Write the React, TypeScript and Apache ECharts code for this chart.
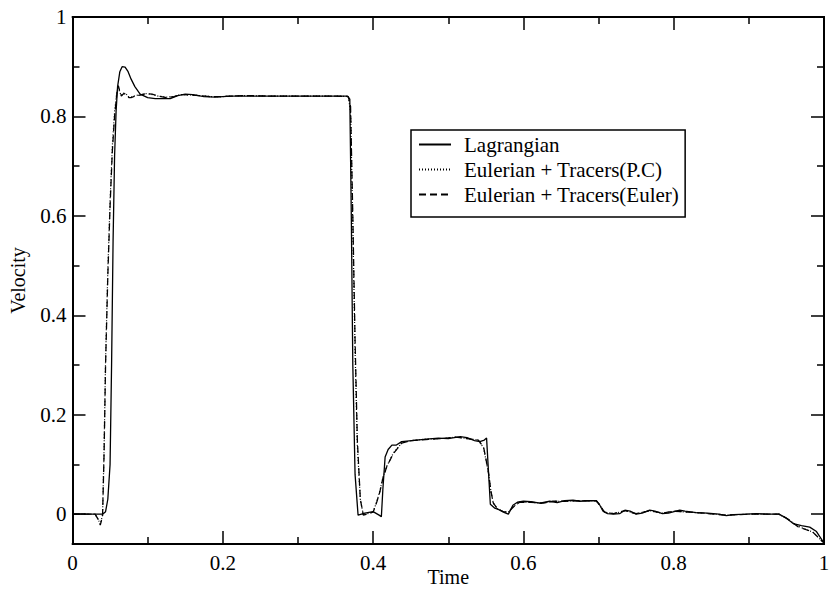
import React, { useEffect, useRef } from "react";
import * as echarts from "echarts";

const seriesNames = ["Lagrangian", "Eulerian + Tracers(P.C)", "Eulerian + Tracers(Euler)"];

const xTicks = [0, 0.2, 0.4, 0.6, 0.8, 1];
const yMajorTicks = [0, 0.2, 0.4, 0.6, 0.8, 1];
const yMinorTicks = [0.1, 0.3, 0.5, 0.7, 0.9];

const lagrangian: [number, number][] = [
  [0, 0], [0.02, 0], [0.04, 0], [0.044, 0.005], [0.047, 0.03], [0.05, 0.1], [0.052, 0.3],
  [0.054, 0.55], [0.056, 0.72], [0.058, 0.81], [0.06, 0.86], [0.063, 0.89], [0.066, 0.9],
  [0.07, 0.899], [0.074, 0.89], [0.078, 0.875], [0.083, 0.86], [0.09, 0.845], [0.1, 0.838],
  [0.11, 0.836], [0.12, 0.836], [0.13, 0.836], [0.14, 0.842], [0.15, 0.845], [0.16, 0.844],
  [0.175, 0.84], [0.19, 0.839], [0.21, 0.841], [0.25, 0.841], [0.3, 0.841], [0.35, 0.841],
  [0.366, 0.841], [0.369, 0.835], [0.371, 0.6], [0.373, 0.3], [0.376, 0.08], [0.38, -0.002],
  [0.389, 0.002], [0.4, 0.005], [0.408, -0.002], [0.411, -0.005], [0.413, 0.05], [0.416, 0.115],
  [0.42, 0.13], [0.425, 0.139], [0.431, 0.139], [0.438, 0.146], [0.458, 0.149], [0.471, 0.151],
  [0.487, 0.153], [0.5, 0.152], [0.516, 0.156], [0.525, 0.154], [0.535, 0.148], [0.542, 0.146],
  [0.548, 0.149], [0.551, 0.153], [0.553, 0.1], [0.556, 0.02], [0.562, 0.012], [0.569, 0.008],
  [0.575, 0.003], [0.58, 0], [0.586, 0.018], [0.592, 0.024], [0.6, 0.026], [0.61, 0.025],
  [0.622, 0.022], [0.635, 0.026], [0.645, 0.023], [0.655, 0.027], [0.666, 0.028], [0.675, 0.026],
  [0.685, 0.027], [0.697, 0.027], [0.701, 0.02], [0.706, 0.006], [0.712, 0.001], [0.72, 0],
  [0.728, 0.001], [0.735, 0.008], [0.742, 0.006], [0.75, 0], [0.758, 0.002], [0.768, 0.008],
  [0.775, 0.006], [0.785, 0.001], [0.793, 0.002], [0.808, 0.008], [0.815, 0.006], [0.83, 0.003],
  [0.845, 0.002], [0.86, 0], [0.87, -0.003], [0.88, -0.001], [0.897, 0], [0.91, 0.001],
  [0.925, 0], [0.94, 0], [0.95, -0.008], [0.959, -0.019], [0.97, -0.023], [0.981, -0.026],
  [0.99, -0.035], [1.0, -0.058],
];

const tracersPC: [number, number][] = [
  [0, 0], [0.03, 0], [0.034, -0.01], [0.037, -0.02], [0.04, -0.002], [0.042, 0.13], [0.044, 0.31],
  [0.047, 0.49], [0.05, 0.63], [0.053, 0.74], [0.056, 0.81], [0.059, 0.85], [0.061, 0.858],
  [0.063, 0.848], [0.065, 0.842], [0.068, 0.847], [0.072, 0.844], [0.075, 0.839], [0.078, 0.839],
  [0.084, 0.842], [0.09, 0.844], [0.098, 0.846], [0.106, 0.844], [0.114, 0.841], [0.125, 0.839],
  [0.135, 0.84], [0.145, 0.844], [0.16, 0.843], [0.183, 0.84], [0.2, 0.84], [0.227, 0.842],
  [0.26, 0.841], [0.3, 0.841], [0.35, 0.841], [0.367, 0.84], [0.37, 0.81], [0.373, 0.58],
  [0.376, 0.33], [0.379, 0.14], [0.383, 0.03], [0.387, -0.002], [0.393, 0.001], [0.4, 0.004],
  [0.405, 0.026], [0.409, 0.046], [0.413, 0.073], [0.418, 0.096], [0.427, 0.123], [0.438, 0.143],
  [0.451, 0.148], [0.47, 0.151], [0.49, 0.152], [0.51, 0.155], [0.525, 0.152], [0.54, 0.149],
  [0.547, 0.133], [0.553, 0.087], [0.557, 0.044], [0.56, 0.022], [0.566, 0.01], [0.573, 0.005],
  [0.58, 0.004], [0.587, 0.016], [0.595, 0.024], [0.61, 0.024], [0.625, 0.022], [0.64, 0.026],
  [0.655, 0.026], [0.67, 0.027], [0.685, 0.027], [0.697, 0.027], [0.703, 0.015], [0.708, 0.004],
  [0.72, 0.001], [0.735, 0.007], [0.75, 0.001], [0.768, 0.007], [0.785, 0.002], [0.8, 0.006],
  [0.82, 0.004], [0.84, 0.002], [0.87, -0.002], [0.9, 0], [0.94, 0], [0.952, -0.01],
  [0.965, -0.024], [0.985, -0.036], [1.0, -0.058],
];

const tracersEuler: [number, number][] = [
  [0, 0], [0.03, 0], [0.034, -0.01], [0.037, -0.022], [0.04, -0.003], [0.042, 0.12], [0.044, 0.3],
  [0.047, 0.48], [0.05, 0.62], [0.053, 0.73], [0.056, 0.8], [0.059, 0.845], [0.061, 0.862],
  [0.063, 0.85], [0.065, 0.841], [0.068, 0.846], [0.072, 0.845], [0.075, 0.838], [0.078, 0.838],
  [0.084, 0.841], [0.09, 0.843], [0.098, 0.846], [0.106, 0.845], [0.114, 0.841], [0.125, 0.838],
  [0.135, 0.84], [0.145, 0.844], [0.16, 0.843], [0.183, 0.84], [0.2, 0.84], [0.227, 0.842],
  [0.26, 0.841], [0.3, 0.841], [0.35, 0.841], [0.367, 0.84], [0.37, 0.82], [0.373, 0.6],
  [0.376, 0.35], [0.379, 0.15], [0.383, 0.03], [0.387, -0.002], [0.393, 0.001], [0.4, 0.004],
  [0.405, 0.025], [0.409, 0.045], [0.413, 0.072], [0.418, 0.095], [0.427, 0.122], [0.438, 0.143],
  [0.451, 0.148], [0.47, 0.15], [0.49, 0.152], [0.51, 0.155], [0.525, 0.152], [0.54, 0.149],
  [0.547, 0.135], [0.553, 0.089], [0.557, 0.045], [0.56, 0.022], [0.566, 0.01], [0.573, 0.005],
  [0.58, 0.004], [0.587, 0.015], [0.595, 0.024], [0.61, 0.024], [0.625, 0.022], [0.64, 0.026],
  [0.655, 0.026], [0.67, 0.027], [0.685, 0.027], [0.697, 0.027], [0.703, 0.015], [0.708, 0.004],
  [0.72, 0.001], [0.735, 0.007], [0.75, 0.001], [0.768, 0.007], [0.785, 0.002], [0.8, 0.006],
  [0.82, 0.004], [0.84, 0.002], [0.87, -0.002], [0.9, 0], [0.94, 0], [0.952, -0.01],
  [0.965, -0.025], [0.985, -0.036], [1.0, -0.058],
];

const FONT = "Liberation Serif";

export default function App() {
  const ref = useRef<HTMLDivElement>(null);
  useEffect(() => {
    if (!ref.current) return;
    const chart = echarts.init(ref.current, undefined, { renderer: "svg" });
    const axisLine = { show: true, onZero: false, lineStyle: { color: "#000", width: 2 } };
    const labelStyle = { color: "#000", fontFamily: FONT, fontSize: 21 };
    const tickLine = { color: "#000", width: 1.5 };
    const yBase = {
      type: "value" as const,
      min: -0.06,
      max: 1,
      axisLine,
      splitLine: { show: false },
    };
    chart.setOption({
      animation: false,
      backgroundColor: "#fff",
      grid: {
        left: 72.5,
        right: 8,
        top: 17,
        bottom: 52,
        containLabel: false,
        outerBoundsMode: "none",
      },
      legend: {
        orient: "vertical",
        left: 411,
        top: 130,
        padding: [4, 6, 12, 7],
        itemGap: 4,
        itemWidth: 32,
        itemHeight: 20,
        borderColor: "#000",
        borderWidth: 1.5,
        itemStyle: { opacity: 0 },
        data: seriesNames,
        textStyle: { ...labelStyle, padding: [0, 0, 0, 8] },
      },
      xAxis: [
        {
          type: "value",
          position: "bottom",
          min: 0,
          max: 1,
          interval: 0.2,
          axisLine,
          axisTick: { show: true, inside: true, length: 13, lineStyle: tickLine },
          minorTick: { show: true, splitNumber: 2, length: 7, lineStyle: tickLine },
          splitLine: { show: false },
          minorSplitLine: { show: false },
          axisLabel: { ...labelStyle, margin: 8, customValues: xTicks },
          name: "Time",
          nameLocation: "middle",
          nameGap: 23,
          nameMoveOverlap: false,
          nameTextStyle: { ...labelStyle, fontSize: 20 },
        },
        {
          type: "value",
          position: "top",
          min: 0,
          max: 1,
          interval: 0.2,
          axisLine,
          axisTick: { show: true, inside: true, length: 13, lineStyle: tickLine },
          minorTick: { show: true, splitNumber: 2, length: 7, lineStyle: tickLine },
          splitLine: { show: false },
          axisLabel: { show: false },
        },
      ],
      yAxis: [
        {
          ...yBase,
          position: "left",
          axisTick: { show: true, inside: true, length: 13, customValues: yMajorTicks, lineStyle: tickLine },
          axisLabel: { ...labelStyle, margin: 6, customValues: yMajorTicks },
          name: "Velocity",
          nameLocation: "middle",
          nameGap: 45,
          nameRotate: 90,
          nameTextStyle: { ...labelStyle, fontSize: 20 },
        },
        {
          ...yBase,
          position: "left",
          axisTick: { show: true, inside: true, length: 7, customValues: yMinorTicks, lineStyle: tickLine },
          axisLabel: { show: false },
        },
        {
          ...yBase,
          position: "right",
          axisTick: { show: true, inside: true, length: 13, customValues: yMajorTicks, lineStyle: tickLine },
          axisLabel: { show: false },
        },
        {
          ...yBase,
          position: "right",
          axisTick: { show: true, inside: true, length: 7, customValues: yMinorTicks, lineStyle: tickLine },
          axisLabel: { show: false },
        },
      ],
      series: [
        {
          name: seriesNames[0],
          type: "line",
          data: lagrangian,
          symbol: "none",
          showSymbol: false,
          lineStyle: { color: "#000", width: 1.3, type: "solid" },
          itemStyle: { color: "#000" },
          z: 3,
        },
        {
          name: seriesNames[1],
          type: "line",
          data: tracersPC,
          symbol: "none",
          showSymbol: false,
          lineStyle: { color: "#000", width: 1.2, type: [1, 2] },
          itemStyle: { color: "#000" },
          z: 2,
        },
        {
          name: seriesNames[2],
          type: "line",
          data: tracersEuler,
          symbol: "none",
          showSymbol: false,
          lineStyle: { color: "#000", width: 1.3, type: [7, 4] },
          itemStyle: { color: "#000" },
          z: 2,
        },
      ],
    });
    return () => chart.dispose();
  }, []);
  return (
    <div
      ref={ref}
      style={{ position: "absolute", left: 0, top: 0, width: 832, height: 596 }}
    />
  );
}
